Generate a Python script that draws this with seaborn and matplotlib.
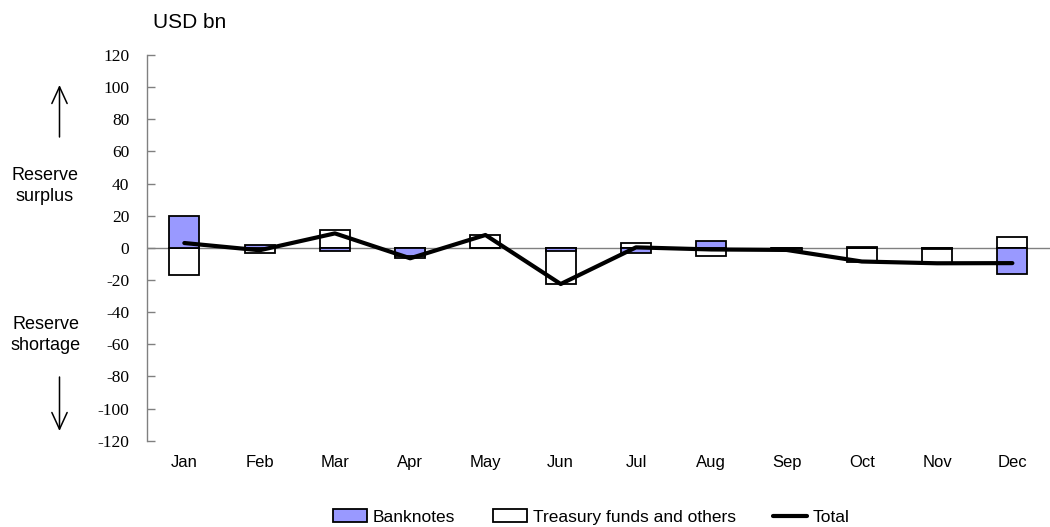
import numpy as np
import pandas as pd
import matplotlib
matplotlib.use("Agg")
import matplotlib.pyplot as plt
from matplotlib.patches import Patch
from matplotlib.lines import Line2D
import seaborn as sns

# Monthly reserve factors, USD bn
months = ["Jan", "Feb", "Mar", "Apr", "May", "Jun",
          "Jul", "Aug", "Sep", "Oct", "Nov", "Dec"]
banknotes = [20.0, 2.0, -2.0, -5.0, 0.0, -2.0, -3.0, 4.0, 0.2, 0.5, -0.8, -16.5]
treasury = [-17.0, -3.5, 11.0, -1.5, 8.0, -20.5, 3.3, -5.0, -1.5, -9.0, -8.8, 7.0]
y_ticks = [120, 100, 80, 60, 40, 20, 0, -20, -40, -60, -80, -100, -120]

BANK_COLOR = "#9999FF"
SANS = "Liberation Sans"
SERIF = "Liberation Serif"

sns.set_style("white")
plt.rcParams["font.family"] = [SANS, "DejaVu Sans"]
plt.rcParams["text.color"] = "black"
plt.rcParams["xtick.color"] = "black"
plt.rcParams["ytick.color"] = "black"

b = np.array(banknotes)
t = np.array(treasury)
total = b + t
# Stacked extent of the treasury segment: it sits beyond the banknote
# segment when both move in the same direction, otherwise starts at zero.
same_sign = np.sign(b) == np.sign(t)
treasury_extent = np.where(same_sign, b + t, t)

df = pd.DataFrame({
    "month": months,
    "pos": np.arange(len(months)),
    "banknotes": b,
    "treasury_extent": treasury_extent,
    "total": total,
})

W, H = 1050, 527
fig = plt.figure(figsize=(W / 100, H / 100), dpi=100)
ax_left, ax_right, ax_top, ax_bottom = 146.7, 1050, 55, 440.7
ax = fig.add_axes([ax_left / W, 1 - ax_bottom / H,
                   (ax_right - ax_left) / W, (ax_bottom - ax_top) / H])

ax.axhline(0, color="#808080", lw=1.0, zorder=0.5)

sns.barplot(data=df, x="month", y="treasury_extent", order=months,
            color="white", edgecolor="black", linewidth=1.3,
            width=0.4, saturation=1, ax=ax, zorder=2)
sns.barplot(data=df, x="month", y="banknotes", order=months,
            color=BANK_COLOR, edgecolor="black", linewidth=1.3,
            width=0.4, saturation=1, ax=ax, zorder=3)
sns.lineplot(data=df, x="pos", y="total", color="black", linewidth=3,
             ax=ax, zorder=4, sort=False)

ax.set_xlim(-0.5, len(months) - 0.5)
ax.set_ylim(-120, 120)
ax.set_yticks(y_ticks)
ax.set_yticklabels([str(v) for v in y_ticks], fontfamily=SERIF, fontsize=12.5)
ax.set_xticks(np.arange(len(months)))
ax.set_xticklabels(months, fontfamily=SANS, fontsize=12)
ax.set_xlabel("")
ax.set_ylabel("")

for side in ["top", "right", "bottom"]:
    ax.spines[side].set_visible(False)
ax.spines["left"].set_color("#808080")
ax.spines["left"].set_linewidth(1.0)
ax.tick_params(axis="y", left=True, direction="in", length=6, width=1.0,
               color="#808080", pad=12.5, labelcolor="black")
ax.tick_params(axis="x", bottom=False, length=0, pad=10, labelcolor="black")
ax.patch.set_alpha(0)

# Unit label and side annotations
fig.text(190 / W, 1 - 22 / H, "USD bn", ha="center", va="center",
         fontsize=15, family=SANS, color="black")
fig.text(45 / W, 1 - 186 / H, "Reserve\nsurplus", ha="center", va="center",
         fontsize=13, family=SANS, linespacing=1.3, color="black")
fig.text(46 / W, 1 - 335 / H, "Reserve\nshortage", ha="center", va="center",
         fontsize=13, family=SANS, linespacing=1.3, color="black")

arrow_kw = dict(arrowstyle="->,head_length=1.2,head_width=0.55",
                lw=1.1, color="black", shrinkA=0, shrinkB=0)
ax.annotate("", xy=(59.5 / W, 1 - 85 / H), xytext=(59.5 / W, 1 - 137 / H),
            xycoords="figure fraction", textcoords="figure fraction",
            arrowprops=arrow_kw)
ax.annotate("", xy=(59.5 / W, 1 - 431 / H), xytext=(59.5 / W, 1 - 377 / H),
            xycoords="figure fraction", textcoords="figure fraction",
            arrowprops=arrow_kw)

# Legend entries, each placed at its own slot along the bottom
entries = [
    (Patch(facecolor=BANK_COLOR, edgecolor="black", linewidth=1.3),
     "Banknotes", 333),
    (Patch(facecolor="white", edgecolor="black", linewidth=1.3),
     "Treasury funds and others", 493),
    (Line2D([], [], color="black", linewidth=3), "Total", 773),
]
for handle, label, x0 in entries:
    leg = fig.legend([handle], [label], loc="center left",
                     bbox_to_anchor=(x0 / W, 1 - 517 / H), frameon=False,
                     prop={"family": SANS, "size": 12.5}, handlelength=1.95,
                     handleheight=0.72, handletextpad=0.35,
                     borderpad=0, borderaxespad=0)
    for txt in leg.get_texts():
        txt.set_color("black")

fig.savefig("out.png", dpi=100)
